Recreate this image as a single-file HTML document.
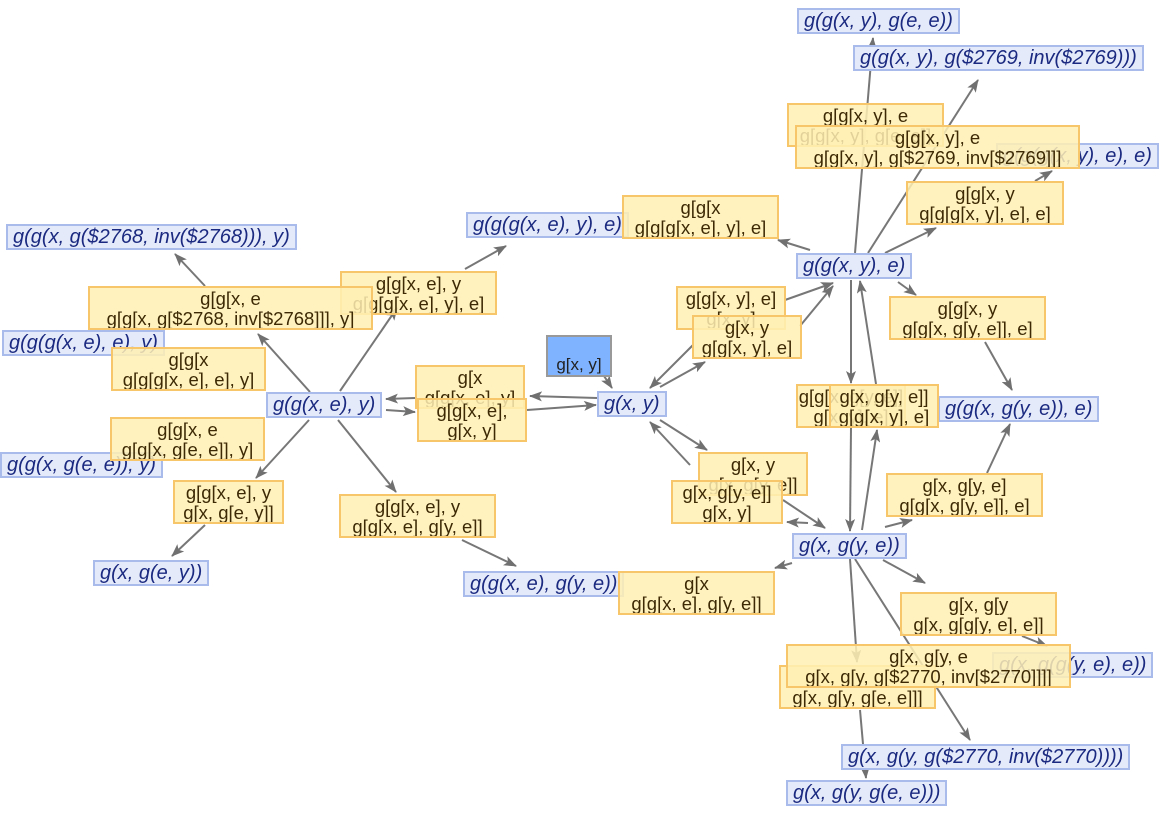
<!DOCTYPE html>
<html><head><meta charset="utf-8"><style>
body{margin:0;width:1170px;height:814px;background:#fff;position:relative;overflow:hidden;font-family:"Liberation Sans",sans-serif}
.b{position:absolute;height:26px;background:#e4eaf9;border:2px solid #a9bbea;color:#1b2a80;font-style:italic;font-size:20px;line-height:23px;padding:0 5px;white-space:nowrap;box-sizing:border-box}
.y{position:absolute;background:rgba(255,240,180,.85);border:2px solid #f7c56a;color:#3d2a05;font-size:18.5px;line-height:20px;text-align:center;white-space:nowrap;box-sizing:border-box;padding-top:1px;overflow:hidden}
svg{position:absolute;left:0;top:0}
</style></head><body>
<svg width="1170" height="814"><defs><marker id="a" markerWidth="13" markerHeight="10" refX="12" refY="5" orient="auto" markerUnits="userSpaceOnUse"><path d="M0,0L13,5L0,10L3,5z" fill="#707070"/></marker></defs>
<g stroke="#777" stroke-width="2" fill="none" marker-end="url(#a)">
<line x1="600" y1="370" x2="612" y2="388"/>
<line x1="597" y1="398" x2="530" y2="396"/>
<line x1="415" y1="398" x2="386" y2="399"/>
<line x1="386" y1="410" x2="415" y2="412"/>
<line x1="527" y1="410" x2="596" y2="405"/>
<line x1="693" y1="345" x2="650" y2="388"/>
<line x1="660" y1="387" x2="705" y2="362"/>
<line x1="785" y1="300" x2="833" y2="283"/>
<line x1="800" y1="326" x2="833" y2="286"/>
<line x1="810" y1="250" x2="778" y2="240"/>
<line x1="855" y1="253" x2="873" y2="38"/>
<line x1="868" y1="253" x2="978" y2="80"/>
<line x1="885" y1="253" x2="936" y2="228"/>
<line x1="1035" y1="181" x2="1052" y2="171"/>
<line x1="898" y1="282" x2="916" y2="295"/>
<line x1="985" y1="342" x2="1012" y2="390"/>
<line x1="851" y1="280" x2="851" y2="383"/>
<line x1="876" y1="384" x2="860" y2="281"/>
<line x1="851" y1="428" x2="850" y2="531"/>
<line x1="862" y1="530" x2="877" y2="430"/>
<line x1="987" y1="473" x2="1010" y2="424"/>
<line x1="885" y1="527" x2="912" y2="520"/>
<line x1="690" y1="465" x2="650" y2="422"/>
<line x1="660" y1="420" x2="707" y2="450"/>
<line x1="783" y1="500" x2="825" y2="528"/>
<line x1="808" y1="523" x2="787" y2="522"/>
<line x1="792" y1="563" x2="775" y2="568"/>
<line x1="850" y1="559" x2="857" y2="662"/>
<line x1="855" y1="559" x2="970" y2="740"/>
<line x1="883" y1="560" x2="925" y2="583"/>
<line x1="1022" y1="636" x2="1047" y2="646"/>
<line x1="860" y1="710" x2="866" y2="778"/>
<line x1="340" y1="391" x2="397" y2="308"/>
<line x1="310" y1="392" x2="258" y2="334"/>
<line x1="205" y1="286" x2="175" y2="254"/>
<line x1="465" y1="269" x2="506" y2="246"/>
<line x1="309" y1="420" x2="256" y2="478"/>
<line x1="338" y1="420" x2="396" y2="492"/>
<line x1="205" y1="525" x2="172" y2="556"/>
<line x1="462" y1="540" x2="516" y2="566"/>
</g></svg>
<div style="position:absolute;left:546px;top:335px;width:66px;height:42px;background:#7fb3ff;border:2px solid #999;box-sizing:border-box;font-size:17px;color:#222;text-align:center;padding-top:18px">g[x, y]</div>

<div class="b" style="left:797px;top:8px">g(g(x, y), g(e, e))</div>
<div class="b" style="left:853px;top:45px">g(g(x, y), g($2769, inv($2769)))</div>
<div class="b" style="left:996px;top:143px">g(g(g(x, y), e), e)</div>
<div class="b" style="left:466px;top:212px">g(g(g(x, e), y), e)</div>
<div class="b" style="left:796px;top:253px">g(g(x, y), e)</div>
<div class="b" style="left:6px;top:224px">g(g(x, g($2768, inv($2768))), y)</div>
<div class="b" style="left:2px;top:330px">g(g(g(x, e), e), y)</div>
<div class="b" style="left:266px;top:392px">g(g(x, e), y)</div>
<div class="b" style="left:597px;top:391px">g(x, y)</div>
<div class="b" style="left:0px;top:452px">g(g(x, g(e, e)), y)</div>
<div class="b" style="left:938px;top:396px">g(g(x, g(y, e)), e)</div>
<div class="b" style="left:792px;top:533px">g(x, g(y, e))</div>
<div class="b" style="left:93px;top:560px">g(x, g(e, y))</div>
<div class="b" style="left:463px;top:571px">g(g(x, e), g(y, e))</div>
<div class="b" style="left:992px;top:652px">g(x, g(g(y, e), e))</div>
<div class="b" style="left:841px;top:744px">g(x, g(y, g($2770, inv($2770))))</div>
<div class="b" style="left:786px;top:780px">g(x, g(y, g(e, e)))</div>

<div class="y" style="left:787px;top:103px;width:157px;height:44px">g[g[x, y], e<br>g[g[x, y], g[e, e]]</div>
<div class="y" style="left:795px;top:125px;width:285px;height:44px">g[g[x, y], e<br>g[g[x, y], g[$2769, inv[$2769]]]</div>
<div class="y" style="left:906px;top:181px;width:158px;height:44px">g[g[x, y<br>g[g[g[x, y], e], e]</div>
<div class="y" style="left:622px;top:195px;width:157px;height:44px">g[g[x<br>g[g[g[x, e], y], e]</div>
<div class="y" style="left:340px;top:271px;width:157px;height:44px">g[g[x, e], y<br>g[g[g[x, e], y], e]</div>
<div class="y" style="left:88px;top:286px;width:285px;height:44px">g[g[x, e<br>g[g[x, g[$2768, inv[$2768]]], y]</div>
<div class="y" style="left:676px;top:286px;width:110px;height:44px">g[g[x, y], e]<br>g[x, y]</div>
<div class="y" style="left:692px;top:315px;width:110px;height:44px">g[x, y<br>g[g[x, y], e]</div>
<div class="y" style="left:889px;top:296px;width:157px;height:44px">g[g[x, y<br>g[g[x, g[y, e]], e]</div>
<div class="y" style="left:111px;top:347px;width:155px;height:44px">g[g[x<br>g[g[g[x, e], e], y]</div>
<div class="y" style="left:415px;top:365px;width:110px;height:44px">g[x<br>g[g[x, e], y]</div>
<div class="y" style="left:417px;top:398px;width:110px;height:44px">g[g[x, e],<br>g[x, y]</div>
<div class="y" style="left:110px;top:417px;width:155px;height:44px">g[g[x, e<br>g[g[x, g[e, e]], y]</div>
<div class="y" style="left:796px;top:384px;width:110px;height:44px">g[g[x, g[y, e]]<br>g[x, y], e]</div>
<div class="y" style="left:829px;top:384px;width:110px;height:44px">g[x, g[y, e]]<br>g[g[x, y], e]</div>
<div class="y" style="left:698px;top:452px;width:110px;height:44px">g[x, y<br>g[x, g[y, e]]</div>
<div class="y" style="left:671px;top:480px;width:112px;height:44px">g[x, g[y, e]]<br>g[x, y]</div>
<div class="y" style="left:886px;top:473px;width:157px;height:44px">g[x, g[y, e]<br>g[g[x, g[y, e]], e]</div>
<div class="y" style="left:173px;top:480px;width:111px;height:44px">g[g[x, e], y<br>g[x, g[e, y]]</div>
<div class="y" style="left:339px;top:494px;width:157px;height:44px">g[g[x, e], y<br>g[g[x, e], g[y, e]]</div>
<div class="y" style="left:618px;top:571px;width:157px;height:44px">g[x<br>g[g[x, e], g[y, e]]</div>
<div class="y" style="left:900px;top:592px;width:157px;height:44px">g[x, g[y<br>g[x, g[g[y, e], e]]</div>
<div class="y" style="left:779px;top:665px;width:157px;height:44px"><br>g[x, g[y, g[e, e]]]</div>
<div class="y" style="left:786px;top:644px;width:285px;height:44px">g[x, g[y, e<br>g[x, g[y, g[$2770, inv[$2770]]]]</div>
</body></html>
